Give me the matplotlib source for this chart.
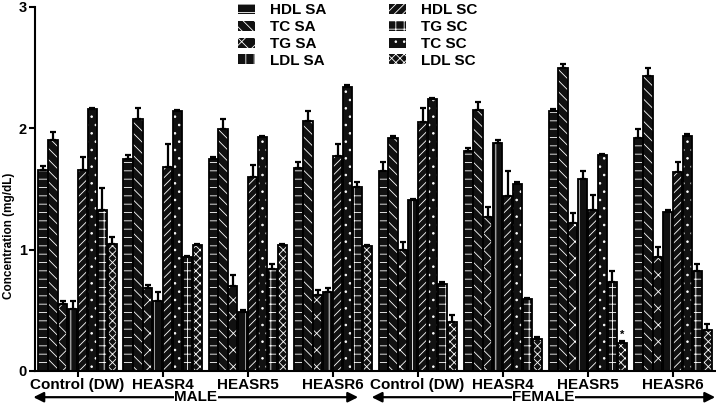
import matplotlib
matplotlib.use("Agg")
import matplotlib.pyplot as plt
import numpy as np

plt.rcParams['font.family'] = ['Liberation Sans', 'DejaVu Sans']
plt.rcParams['font.weight'] = 'bold'
plt.rcParams['hatch.linewidth'] = 0.6

# groups along the x axis
groups = ["Control (DW)", "HEASR4", "HEASR5", "HEASR6",
          "Control (DW)", "HEASR4", "HEASR5", "HEASR6"]

# series in bar order within each group
series = ["HDL SA", "TC SA", "TG SA", "LDL SA", "HDL SC", "TC SC", "TG SC", "LDL SC"]

# mean values (mg/dL), one list per series, one value per group
hdl_sa = [1.66, 1.75, 1.75, 1.67, 1.65, 1.81, 2.14, 1.92]
tc_sa = [1.90, 2.08, 1.99, 2.06, 1.92, 2.15, 2.50, 2.43]
tg_sa = [0.55, 0.68, 0.70, 0.63, 1.00, 1.27, 1.22, 0.94]
ldl_sa = [0.51, 0.58, 0.49, 0.65, 1.41, 1.88, 1.58, 1.31]
hdl_sc = [1.66, 1.68, 1.60, 1.77, 2.05, 1.44, 1.33, 1.64]
tc_sc = [2.16, 2.14, 1.93, 2.34, 2.24, 1.54, 1.78, 1.94]
tg_sc = [1.33, 0.94, 0.84, 1.52, 0.72, 0.59, 0.73, 0.82]
ldl_sc = [1.05, 1.04, 1.04, 1.03, 0.40, 0.26, 0.23, 0.34]

# upper error (SEM)
hdl_sa_err = [0.03, 0.03, 0.01, 0.05, 0.07, 0.03, 0.02, 0.07]
tc_sa_err = [0.07, 0.09, 0.09, 0.08, 0.02, 0.07, 0.03, 0.07]
tg_sa_err = [0.03, 0.03, 0.09, 0.04, 0.06, 0.08, 0.08, 0.08]
ldl_sa_err = [0.07, 0.07, 0.01, 0.03, 0.01, 0.02, 0.07, 0.02]
hdl_sc_err = [0.10, 0.19, 0.10, 0.10, 0.12, 0.21, 0.12, 0.08]
tc_sc_err = [0.01, 0.01, 0.01, 0.02, 0.01, 0.02, 0.01, 0.01]
tg_sc_err = [0.18, 0.01, 0.04, 0.04, 0.01, 0.01, 0.09, 0.06]
ldl_sc_err = [0.05, 0.01, 0.01, 0.01, 0.06, 0.02, 0.02, 0.05]

values = [hdl_sa, tc_sa, tg_sa, ldl_sa, hdl_sc, tc_sc, tg_sc, ldl_sc]
errors = [hdl_sa_err, tc_sa_err, tg_sa_err, ldl_sa_err,
          hdl_sc_err, tc_sc_err, tg_sc_err, ldl_sc_err]
hatches = ["--", "\\\\\\", "xx", "||", "////", "..", "++", "xxxx"]

# legend order (column-wise, as in the original)
legend_order = ["HDL SA", "TC SA", "TG SA", "LDL SA", "HDL SC", "TG SC", "TC SC", "LDL SC"]

fig = plt.figure(figsize=(7.16, 4.05), dpi=100)
ax = fig.add_axes([0.049, 0.084, 0.951, 0.899])

x = np.arange(len(groups))
step = 0.116
width = 0.108
offsets = (np.arange(len(series)) - 3.5) * step

handles = {}
for i, name in enumerate(series):
    pos = x + offsets[i]
    ax.bar(pos, values[i], width, color="#111111", edgecolor="white",
           hatch=hatches[i], linewidth=0, zorder=2)
    ax.bar(pos, values[i], width, color="none", edgecolor="black",
           linewidth=1.3, zorder=3)
    ax.errorbar(pos, values[i], yerr=[np.zeros(len(groups)), errors[i]],
                fmt="none", ecolor="black", elinewidth=1.6, capsize=2,
                capthick=1.6, zorder=4)
    handles[name] = plt.Rectangle((0, 0), 1, 1, facecolor="#111111",
                                  edgecolor="white", hatch=hatches[i], linewidth=0)

# significance mark on female HEASR5 LDL SC
ax.text(x[6] + offsets[7], ldl_sc[6] + ldl_sc_err[6] + 0.01, "*",
        ha="center", va="bottom", fontsize=8)

ax.set_xlim(-0.5, 7.51)
ax.set_ylim(0, 3)
ax.set_yticks([0, 1, 2, 3])
ax.set_xticks(x)
ax.set_xticklabels(groups, fontsize=11, fontweight="bold")
ax.tick_params(axis="y", labelsize=10.5, width=1.5, length=4, pad=2)
ax.tick_params(axis="x", width=1.5, length=4, pad=1)
for lab in ax.get_yticklabels():
    lab.set_fontweight("bold")
ax.set_ylabel("Concentration (mg/dL)", fontsize=8.5, fontweight="bold")
ax.yaxis.set_label_coords(-0.029, 0.37)
ax.spines["top"].set_visible(False)
ax.spines["right"].set_visible(False)
ax.spines["left"].set_linewidth(1.5)
ax.spines["bottom"].set_linewidth(1.5)

leg = fig.legend([handles[n] for n in legend_order], legend_order, ncol=2,
                 loc="upper left", bbox_to_anchor=(229 / 716, 1.014),
                 bbox_transform=fig.transFigure, frameon=False,
                 fontsize=11, handlelength=1.1, handleheight=0.65,
                 columnspacing=4.1, labelspacing=0.18, handletextpad=1.0,
                 borderpad=0.1)
for t in leg.get_texts():
    t.set_fontweight("bold")

# MALE / FEMALE arrows under the axis
trans = ax.get_xaxis_transform()
for lo, hi, label in [(-0.52, 3.3, "MALE"), (3.46, 7.5, "FEMALE")]:
    ax.annotate("", xy=(lo, -0.072), xytext=(hi, -0.072), xycoords=trans,
                textcoords=trans,
                arrowprops=dict(arrowstyle="<|-|>", color="black", lw=1.6,
                                mutation_scale=15, shrinkA=0, shrinkB=0),
                annotation_clip=False)
    ax.text((lo + hi) / 2, -0.072, label, transform=trans, ha="center",
            va="center", fontsize=11, fontweight="bold",
            bbox=dict(facecolor="white", edgecolor="none", pad=0.3))

fig.savefig("out.png", dpi=100)
